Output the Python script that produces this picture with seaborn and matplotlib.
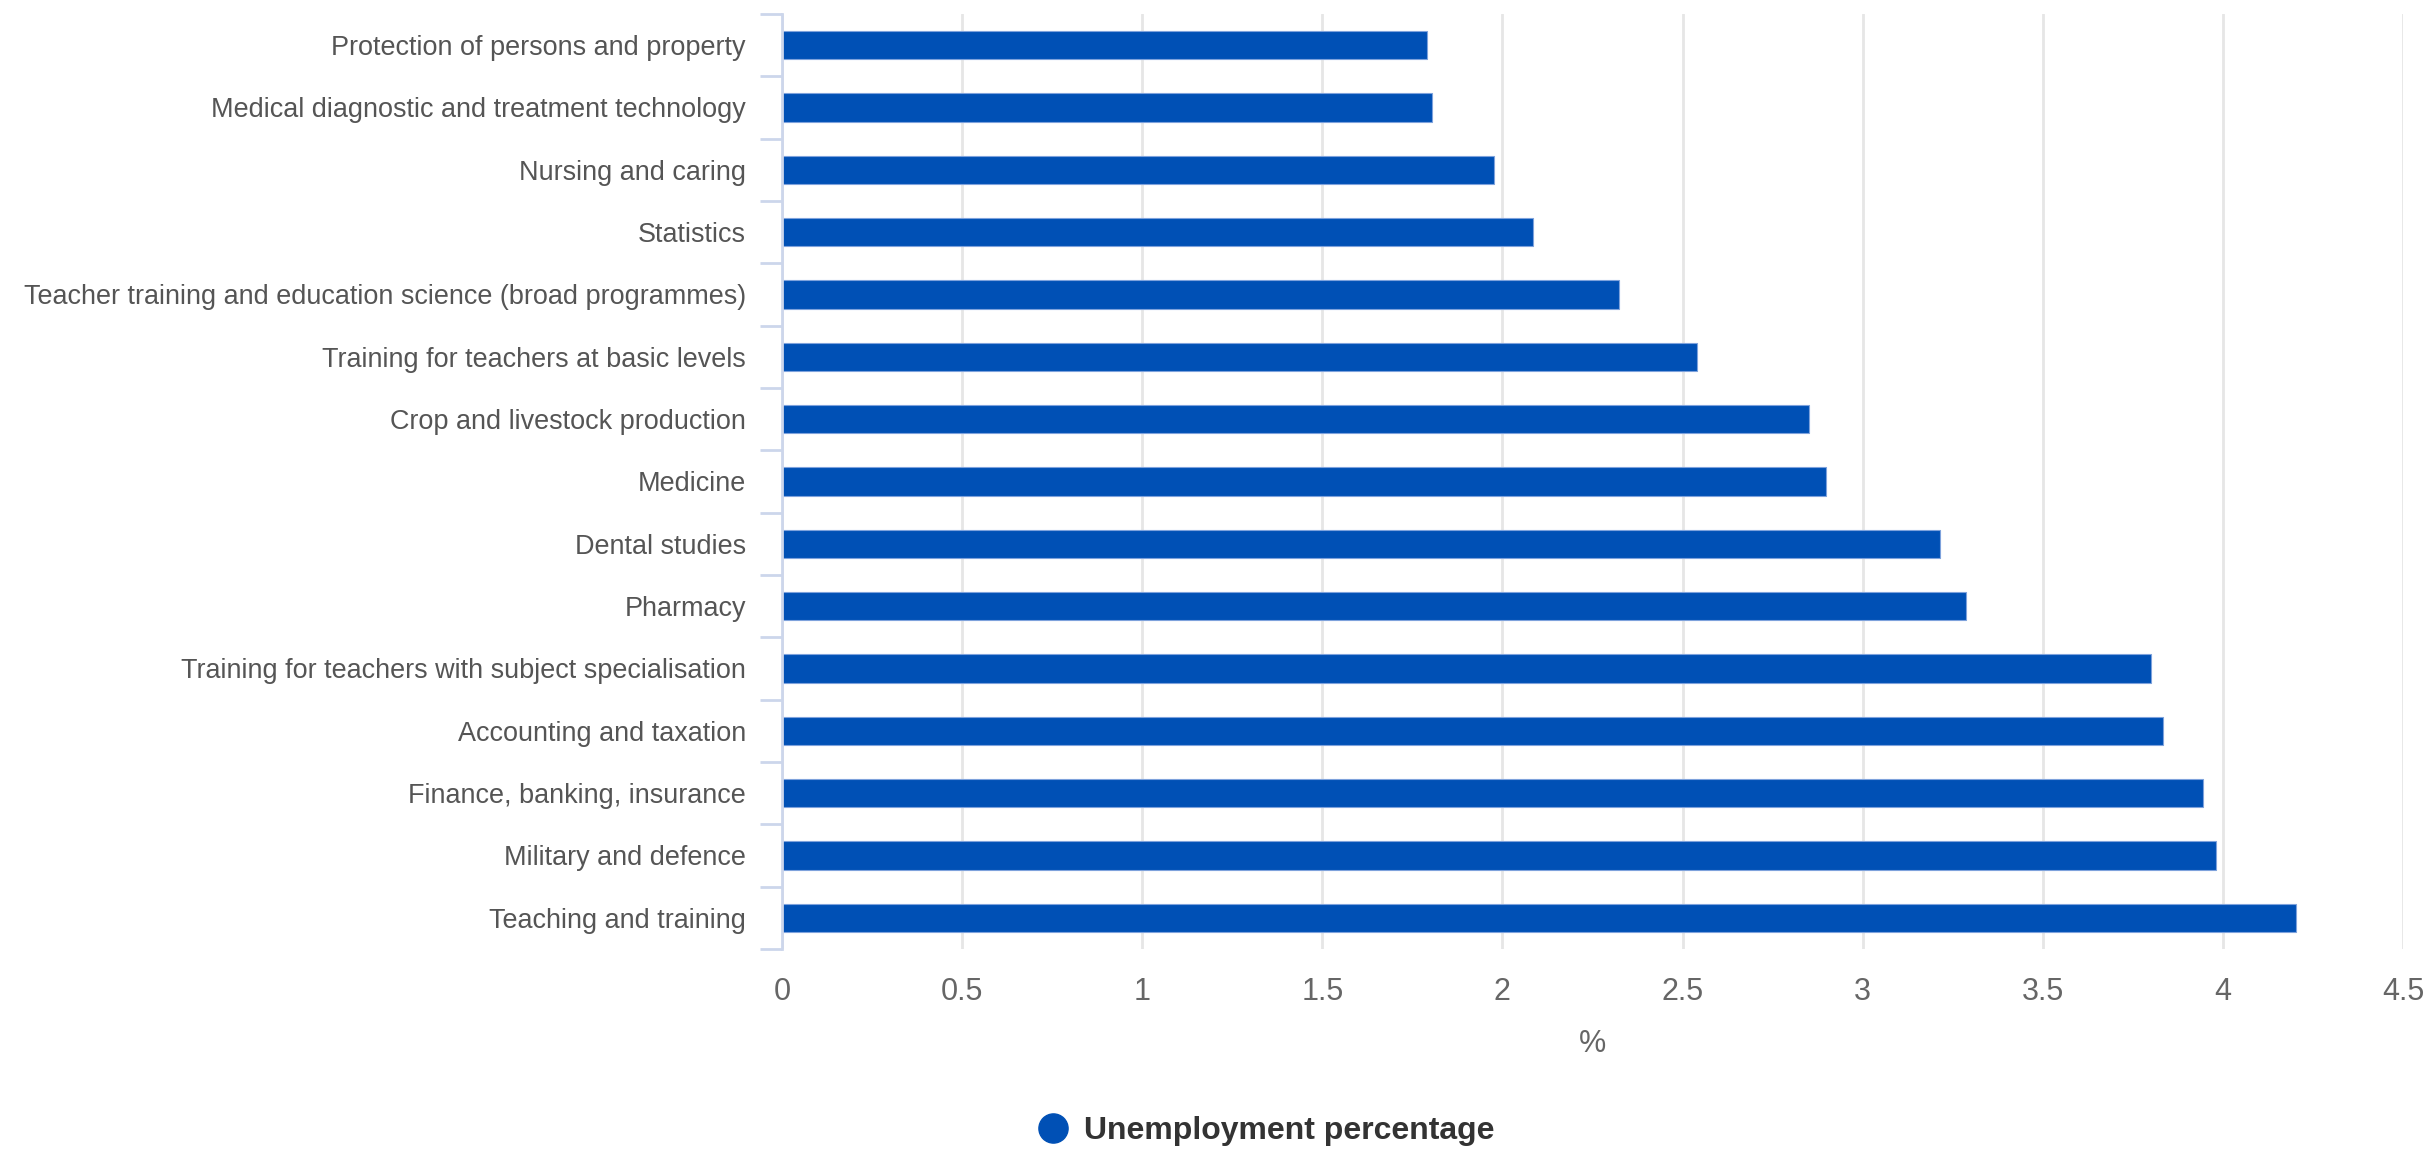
import matplotlib
matplotlib.use("Agg")
import matplotlib.pyplot as plt
from matplotlib import font_manager
from matplotlib.lines import Line2D
import seaborn as sns
import pandas as pd

# Fields of study and their unemployment rate (%)
fields = [
    "Protection of persons and property",
    "Medical diagnostic and treatment technology",
    "Nursing and caring",
    "Statistics",
    "Teacher training and education science (broad programmes)",
    "Training for teachers at basic levels",
    "Crop and livestock production",
    "Medicine",
    "Dental studies",
    "Pharmacy",
    "Training for teachers with subject specialisation",
    "Accounting and taxation",
    "Finance, banking, insurance",
    "Military and defence",
    "Teaching and training",
]
unemployment = [1.79, 1.805, 1.977, 2.086, 2.325, 2.54, 2.851, 2.899,
                3.216, 3.288, 3.801, 3.833, 3.944, 3.98, 4.202]
x_ticks = [0, 0.5, 1, 1.5, 2, 2.5, 3, 3.5, 4, 4.5]
x_tick_labels = ["0", "0.5", "1", "1.5", "2", "2.5", "3", "3.5", "4", "4.5"]
series_name = "Unemployment percentage"
x_title = "%"

df = pd.DataFrame({"field": fields, "value": unemployment})

sns.set_theme(style="white")
available = {f.name for f in font_manager.fontManager.ttflist}
family = next((f for f in ["Liberation Sans Narrow", "Liberation Sans", "DejaVu Sans"]
               if f in available), "DejaVu Sans")
plt.rcParams["font.family"] = [family, "DejaVu Sans"]

BAR = "#0050b5"
AXIS = "#ccd6eb"
GRID = "#e6e6e6"

fig = plt.figure(figsize=(24.27, 11.51), dpi=100)
ax = fig.add_axes([0.3222, 0.1755, 0.9901 - 0.3222, 0.98784 - 0.1755])

sns.barplot(data=df, x="value", y="field", orient="h", color=BAR, width=0.455,
            saturation=1, edgecolor="#7ea2dc", linewidth=0.8, ax=ax, zorder=3)

ax.set_xlim(0, 4.5)
ax.set_ylim(len(fields) - 0.5, -0.5)

# vertical grid lines
ax.set_xticks(x_ticks)
ax.set_xticklabels(x_tick_labels)
ax.grid(axis="x", color=GRID, linewidth=2, zorder=0)
ax.grid(axis="y", visible=False)

# category tick marks sit between the bars
ax.set_yticks(range(len(fields)))
ax.set_yticklabels(fields)
ax.set_yticks([i - 0.5 for i in range(len(fields) + 1)], minor=True)
ax.tick_params(axis="y", which="major", length=0, pad=26, labelsize=23, labelcolor="#555555")
ax.tick_params(axis="y", which="minor", length=16, width=2, color=AXIS, left=True)
ax.tick_params(axis="x", length=0, pad=20, labelsize=22, labelcolor="#666666")

# shrink the category labels so the longest one fits left of the axis
renderer = fig.canvas.get_renderer()
longest = max(t.get_window_extent(renderer).width for t in ax.get_yticklabels())
label_size = 23 * min(1.0, 725.0 / longest)
ax.tick_params(axis="y", which="major", labelsize=label_size)

for side in ["top", "right", "bottom"]:
    ax.spines[side].set_visible(False)
ax.spines["left"].set_color(AXIS)
ax.spines["left"].set_linewidth(2)
ax.spines["left"].set_zorder(4)

ax.set_ylabel("")
ax.set_xlabel(x_title, fontsize=22, color="#666666", labelpad=16)

handle = Line2D([], [], marker="o", linestyle="none", markersize=21,
                markerfacecolor=BAR, markeredgecolor=BAR)
fig.legend([handle], [series_name], loc="center", bbox_to_anchor=(0.5215, 0.0175),
           frameon=False, handletextpad=0.45, borderpad=0, handlelength=1.0,
           prop={"weight": "bold", "size": 23}, labelcolor="#333333")

fig.savefig("out.png", dpi=100, facecolor="white")
